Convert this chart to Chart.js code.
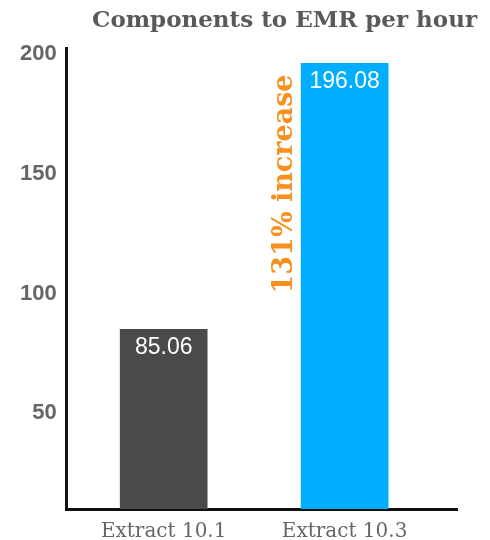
<!DOCTYPE html>
<html>
<head>
<meta charset="utf-8">
<script src="https://cdn.jsdelivr.net/npm/chart.js@4"></script>
<style>
  body { margin: 0; background: #fff; }
  #wrap { position: relative; width: 490px; height: 540px; }
  #title {
    position: absolute; right: 13px; top: 4px;
    font: bold 23px "DejaVu Serif", serif; color: #595959;
    white-space: nowrap; line-height: 30px;
  }
</style>
</head>
<body>
<div id="wrap">
  <div id="title">Components to EMR per hour</div>
  <canvas id="emrChart" width="490" height="540"></canvas>
</div>
<script>
const categories = ["Extract 10.1", "Extract 10.3"];
const componentsPerHour = [85.06, 196.08];
const yTickValues = [50, 100, 150, 200];
const barColors = ["#4a4a4a", "#00aeff"];
const increaseNote = "131% increase";

// white value labels inside the bars + rotated note beside the taller bar
const barNotes = {
  id: "barNotes",
  afterDatasetsDraw(chart) {
    const ctx = chart.ctx;
    const meta = chart.getDatasetMeta(0);
    ctx.save();
    ctx.font = '23px "Liberation Sans", Arial, sans-serif';
    ctx.fillStyle = "#ffffff";
    ctx.textAlign = "center";
    ctx.textBaseline = "middle";
    meta.data.forEach((bar, i) => {
      ctx.fillText(componentsPerHour[i].toFixed(2), bar.x, bar.y + 18);
    });

    const tall = meta.data[1];
    const y = chart.scales.y.getPixelForValue(100);
    ctx.translate(tall.x - tall.width / 2 - 9, y);
    ctx.rotate(-Math.PI / 2);
    ctx.font = 'bold 27px "DejaVu Serif", serif';
    ctx.fillStyle = "#f7901e";
    ctx.textAlign = "left";
    ctx.textBaseline = "alphabetic";
    ctx.fillText(increaseNote, 0, 0);
    ctx.restore();
  },
};

new Chart(document.getElementById("emrChart"), {
  type: "bar",
  data: {
    datasets: [
      {
        data: categories.map((c, i) => ({ x: i + 1, y: componentsPerHour[i] })),
        backgroundColor: barColors,
        barThickness: 87,
      },
    ],
  },
  options: {
    responsive: false,
    animation: false,
    layout: { padding: { top: 48, right: 33, left: 10, bottom: 0 } },
    plugins: { legend: { display: false }, tooltip: { enabled: false } },
    scales: {
      x: {
        type: "linear",
        min: 0.464,
        max: 2.621,
        offset: false,
        grid: { display: true, offset: false, drawOnChartArea: false, drawTicks: false },
        border: { color: "#111", width: 3 },
        afterBuildTicks: (s) => {
          s.ticks = categories.map((c, i) => ({ value: i + 1 }));
        },
        afterFit: (s) => {
          s.height = 31;
        },
        ticks: {
          callback: (v, i) => categories[i],
          font: { family: '"DejaVu Serif", serif', size: 20 },
          color: "#666",
          padding: 11,
          maxRotation: 0,
        },
      },
      y: {
        min: 10,
        max: 202.5,
        grid: { display: true, drawOnChartArea: false, drawTicks: false },
        border: { color: "#111", width: 3 },
        afterBuildTicks: (s) => {
          s.ticks = yTickValues.map((v) => ({ value: v }));
        },
        ticks: {
          font: { family: '"Liberation Sans", Arial, sans-serif', size: 22, weight: "bold" },
          color: "#666",
          padding: 10,
        },
      },
    },
  },
  plugins: [barNotes],
});
</script>
</body>
</html>
